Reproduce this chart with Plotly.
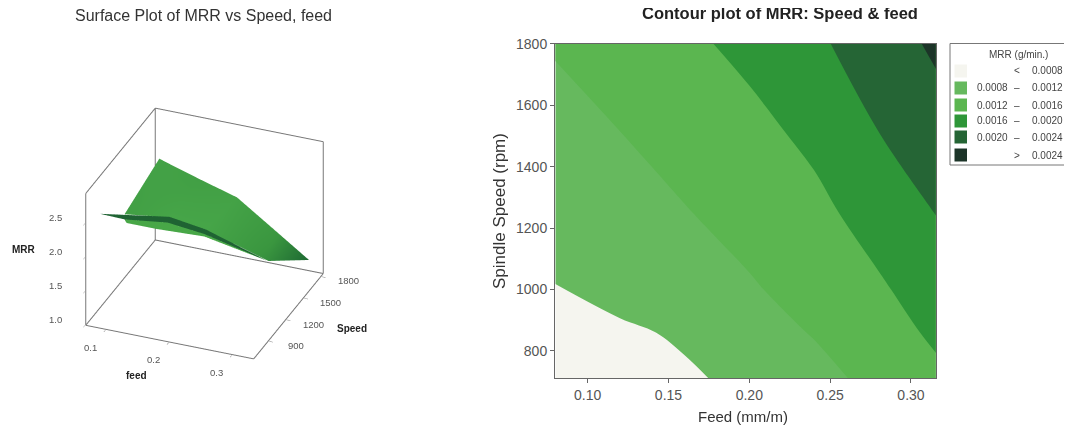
import plotly.graph_objects as go

W, H = 1064, 422   # the page adds an 8 px body margin, so the figure fills the rest of the window
# ---- contour data ----
feed_grid = [0.08, 0.12, 0.16, 0.20, 0.24, 0.28, 0.32]
speed_grid = [712, 860, 1000, 1250, 1500, 1800]
mrr_grid = [
    [0.00063, 0.00070, 0.00076, 0.00087, 0.00109, 0.00130, 0.00155],
    [0.00071, 0.00075, 0.00084, 0.00105, 0.00122, 0.00144, 0.00169],
    [0.00079, 0.00090, 0.00103, 0.00116, 0.00134, 0.00155, 0.00181],
    [0.00093, 0.00105, 0.00118, 0.00134, 0.00150, 0.00176, 0.00204],
    [0.00107, 0.00119, 0.00135, 0.00148, 0.00168, 0.00199, 0.00226],
    [0.00123, 0.00138, 0.00152, 0.00170, 0.00193, 0.00220, 0.00250],
]
band_colors = ["#F5F5EF", "#66B95E", "#5BB650", "#2E9638", "#256535", "#1C3428"]
legend_low = ["", "0.0008", "0.0012", "0.0016", "0.0020", ""]
legend_mid = ["<", "–", "–", "–", "–", ">"]
legend_high = ["0.0008", "0.0012", "0.0016", "0.0020", "0.0024", "0.0024"]

# ---- surface data ----
main_feed = [[0.097, 0.160, 0.220, 0.278, 0.334], [0.097, 0.168, 0.226, 0.314, 0.334]]
main_speed = [[1596, 1596, 1596, 1596, 1596], [1002, 1002, 1002, 1121, 1596]]
main_mrr = [[2.50, 2.32, 2.16, 1.80, 1.45], [2.31, 2.40, 2.32, 1.90, 1.45]]
main_shade = [[0.1, 0.2, 0.1, 0.4, 1.0], [0.2, 0.0, 0.0, 0.6, 1.0]]
dark_feed = [[0.069, 0.179, 0.237, 0.334], [0.108, 0.176, 0.234, 0.334]]
dark_speed = [[884, 884, 884, 884], [884, 884, 884, 884]]
dark_mrr = [[2.39, 2.55, 2.47, 2.19], [2.38, 2.46, 2.40, 2.19]]
lip_feed = [[0.108, 0.176, 0.234, 0.334], [0.120, 0.167, 0.243, 0.334]]
lip_speed = [[884, 884, 884, 884], [789, 789, 789, 884]]
lip_mrr = [[2.38, 2.46, 2.40, 2.19], [2.45, 2.45, 2.48, 2.19]]

FEED_RANGE = [0.0686, 0.3346]
SPEED_RANGE = [646, 1834]
MRR_RANGE = [1.0, 2.94]
feed_ticks = [0.1, 0.2, 0.3]
speed_ticks = [900, 1200, 1500, 1800]
mrr_ticks = [1.0, 1.5, 2.0, 2.5]


def px(x):
    return (x - 8) / W


def py(y):
    return 1 - (y - 8) / H


fig = go.Figure()

fig.add_trace(go.Contour(
    x=feed_grid, y=speed_grid, z=mrr_grid, showscale=False, hoverinfo="skip",
    contours=dict(start=0.0008, end=0.0024, size=0.0004, coloring="fill"),
    line=dict(width=0),
    colorscale=[[0, band_colors[0]], [0.1, band_colors[0]], [0.1, band_colors[1]], [0.3, band_colors[1]],
                [0.3, band_colors[2]], [0.5, band_colors[2]], [0.5, band_colors[3]], [0.7, band_colors[3]],
                [0.7, band_colors[4]], [0.9, band_colors[4]], [0.9, band_colors[5]], [1, band_colors[5]]],
    xaxis="x", yaxis="y",
))

flat = dict(ambient=1.0, diffuse=0.0, specular=0.0, roughness=1.0, fresnel=0.0)
fig.add_trace(go.Surface(x=main_feed, y=main_speed, z=main_mrr, surfacecolor=main_shade, cmin=0, cmax=1,
                         colorscale=[[0, "#46A548"], [0.5, "#3A963F"], [1, "#1E6A33"]], showscale=False,
                         lighting=flat, hoverinfo="skip", scene="scene"))
fig.add_trace(go.Surface(x=dark_feed, y=dark_speed, z=dark_mrr, surfacecolor=[[0] * 4, [0] * 4], cmin=0, cmax=1,
                         colorscale=[[0, "#1F6333"], [1, "#1F6333"]], showscale=False,
                         lighting=flat, hoverinfo="skip", scene="scene"))
fig.add_trace(go.Surface(x=lip_feed, y=lip_speed, z=lip_mrr, surfacecolor=[[0] * 4, [0] * 4], cmin=0, cmax=1,
                         colorscale=[[0, "#48A747"], [1, "#48A747"]], showscale=False,
                         lighting=flat, hoverinfo="skip", scene="scene"))

# wireframe box, one trace per run of edges
f0, f1 = FEED_RANGE
s0, s1 = SPEED_RANGE
m0, m1 = MRR_RANGE
edges = [
    ([f0, f1], [s0, s0], [m0, m0]), ([f1, f1], [s0, s1], [m0, m0]), ([f1, f0], [s1, s1], [m0, m0]),
    ([f0, f0], [s1, s0], [m0, m0]), ([f0, f0], [s0, s0], [m0, m1]), ([f0, f0], [s0, s1], [m1, m1]),
    ([f0, f1], [s1, s1], [m1, m1]), ([f1, f1], [s1, s1], [m1, m0]), ([f0, f0], [s1, s1], [m1, m0]),
]
for ex, ey, ez in edges:
    fig.add_trace(go.Scatter3d(x=ex, y=ey, z=ez, mode="lines", line=dict(color="#777777", width=2),
                               hoverinfo="skip", showlegend=False, scene="scene"))

axis3d = dict(showbackground=False, showgrid=False, zeroline=False, showline=False, showspikes=False,
              ticks="outside", ticklen=4, tickcolor="#777", showticklabels=False, title=dict(text=""))

tick_font = dict(family="Liberation Sans", size=9.5, color="#555")
title_font = dict(family="Liberation Sans", size=10, color="#222")
scene_ann = []
# labels are anchored on the axis value and shifted off the box edge
for v in feed_ticks:
    scene_ann.append(dict(x=v, y=s0, z=m0, text=f"{v:.1f}", xshift=-15, yshift=-18, font=tick_font, showarrow=False))
for v in speed_ticks:
    scene_ann.append(dict(x=f1, y=v, z=m0, text=str(v), xshift=27, yshift=-5, font=tick_font, showarrow=False))
for v in mrr_ticks:
    scene_ann.append(dict(x=f0, y=s0, z=v, text=f"{v:.1f}", xshift=-30, yshift=6, font=tick_font, showarrow=False))
scene_ann.append(dict(x=0.2, y=s0, z=m0, text="<b>feed</b>", xshift=-32, yshift=-34, font=title_font, showarrow=False))
scene_ann.append(dict(x=f1, y=1200, z=m0, text="<b>Speed</b>", xshift=66, yshift=-9, font=title_font, showarrow=False))
scene_ann.append(dict(x=f0, y=s0, z=2.0, text="<b>MRR</b>", xshift=-62, yshift=8, font=title_font, showarrow=False))

fig.update_layout(
    width=W, height=H, autosize=False,
    paper_bgcolor="white", plot_bgcolor="white", showlegend=False,
    margin=dict(l=0, r=0, t=0, b=0, autoexpand=False),
    font=dict(family="Liberation Sans", color="#444"),
    xaxis=dict(domain=[px(555), px(935.7)], range=[0.0798, 0.3153], tickvals=[0.10, 0.15, 0.20, 0.25, 0.30],
               ticktext=["0.10", "0.15", "0.20", "0.25", "0.30"], ticks="outside", ticklen=4, tickcolor="#666",
               showgrid=False, zeroline=False, showline=True, linecolor="#666", mirror=True, automargin=False,
               tickfont=dict(size=14, color="#555")),
    yaxis=dict(domain=[py(378), py(43.7)], range=[712, 1800], tickvals=[800, 1000, 1200, 1400, 1600, 1800],
               ticks="outside", ticklen=4, tickcolor="#666", tickformat="d",
               showgrid=False, zeroline=False, showline=True, linecolor="#666", mirror=True, automargin=False,
               tickfont=dict(size=14, color="#555")),
    scene=dict(
        domain=dict(x=[px(8), px(401)], y=[py(416), py(51)]),
        aspectmode="manual", aspectratio=dict(x=1.0, y=1.025, z=0.84),
        camera=dict(projection=dict(type="orthographic"), up=dict(x=0, y=0, z=1), center=dict(x=0, y=0, z=0),
                    eye=dict(x=0.60, y=-1.487, z=0.914)),
        # axis ranges sit just outside the box edges so the edge lines are not clipped at the bounds
        xaxis=dict(axis3d, range=[0.0676, 0.3356], tickvals=feed_ticks),
        yaxis=dict(axis3d, range=[642, 1838], tickvals=speed_ticks),
        zaxis=dict(axis3d, range=[0.99, 2.95], tickvals=mrr_ticks),
        annotations=scene_ann,
    ),
)

ann = [
    dict(x=px(203), y=py(16), text="Surface Plot of MRR vs Speed, feed", font=dict(size=16, color="#333")),
    dict(x=px(780), y=py(13), text="<b>Contour plot of MRR: Speed &amp; feed</b>", font=dict(size=16.5, color="#222")),
    dict(x=px(743), y=py(416), text="Feed (mm/m)", font=dict(size=15, color="#333")),
    dict(x=px(499), y=py(211), text="Spindle Speed (rpm)", textangle=-90, font=dict(size=17, color="#333")),
    dict(x=px(1018), y=py(54), text="MRR (g/min.)", font=dict(size=10, color="#444")),
]
shapes = [dict(type="rect", xref="paper", yref="paper", x0=px(950), x1=px(1074), y0=py(165), y1=py(43.5),
               line=dict(color="#777", width=1), fillcolor="white", layer="below")]
rows = [71, 88, 105, 121, 137, 155]
for yy, c, lo, mid, hi in zip(rows, band_colors, legend_low, legend_mid, legend_high):
    shapes.append(dict(type="rect", xref="paper", yref="paper", x0=px(954.5), x1=px(967), y0=py(yy + 6.5), y1=py(yy - 6.5),
                       line=dict(width=0), fillcolor=c))
    if lo:
        ann.append(dict(x=px(992), y=py(yy), text=lo, font=dict(size=10, color="#444")))
    ann.append(dict(x=px(1017), y=py(yy), text=mid, font=dict(size=10, color="#444")))
    ann.append(dict(x=px(1047), y=py(yy), text=hi, font=dict(size=10, color="#444")))
for a in ann:
    a.update(xref="paper", yref="paper", showarrow=False, xanchor="center", yanchor="middle")
fig.update_layout(annotations=ann, shapes=shapes)

fig.write_html("out.html")
